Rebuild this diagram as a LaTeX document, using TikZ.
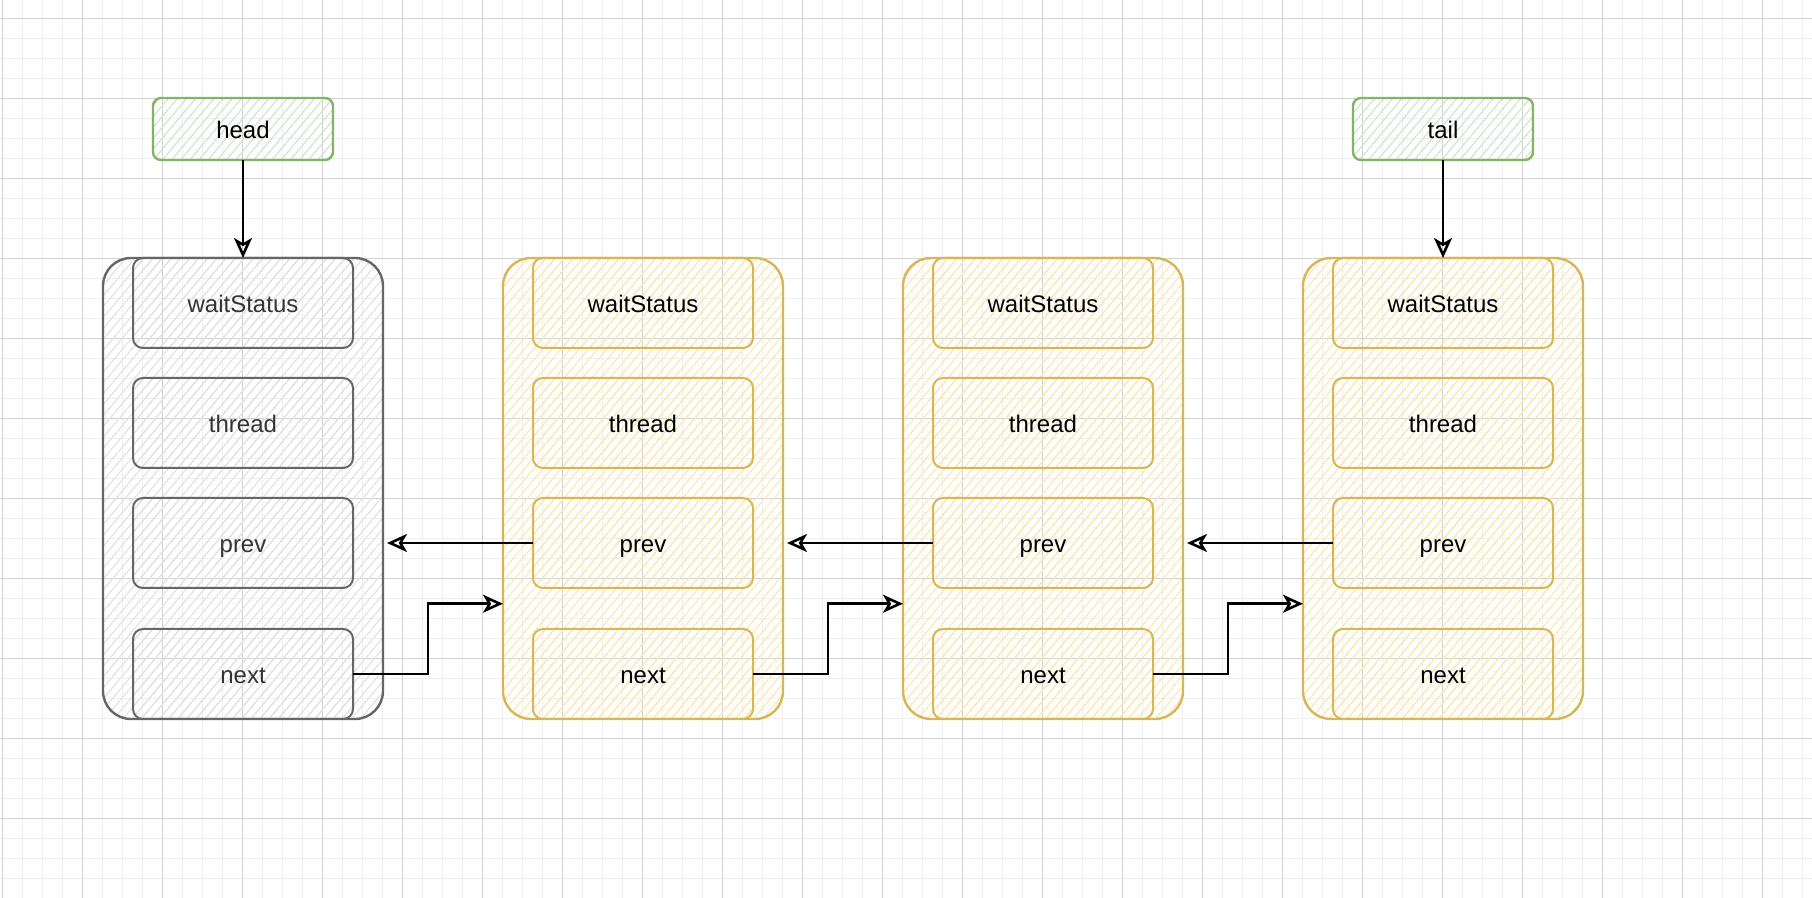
\documentclass[tikz,border=0pt]{standalone}
\usepackage{fontspec}
\setmainfont{Liberation Sans}
\usetikzlibrary{arrows.meta, positioning, calc, patterns.meta}
\definecolor{grayline}{HTML}{666666}
\definecolor{grayhatch}{HTML}{E3E3E3}
\definecolor{yelline}{HTML}{D6B656}
\definecolor{yelhatch}{HTML}{FBE9B4}
\definecolor{grnline}{HTML}{82B366}
\definecolor{grnhatch}{HTML}{D0E6CE}
\definecolor{gridmajor}{HTML}{D2D2D2}
\definecolor{gridminor}{HTML}{F0F0F0}

\begin{document}
\begin{tikzpicture}[x=0.5pt, y=-0.5pt, >={Stealth[open, length=10pt, width=9pt, inset=2.6pt]},
  node distance=15pt and 60pt, font=\fontsize{12}{14}\selectfont,
  hatch/.style={pattern={Lines[angle=50, distance=3.5pt, line width=0.6pt]}},
  nodebox/.style={hatch, line width=1.2pt, rounded corners=14pt, minimum width=140pt,
                  minimum height=230.5pt, inner sep=0pt, outer sep=0pt},
  field/.style={hatch, line width=1pt, rounded corners=5pt, minimum width=110pt,
                minimum height=45pt, inner sep=0pt, outer sep=0pt,
                text height=9.6pt, text depth=0pt},
  grayish/.style={draw=grayline, pattern color=grayhatch, text=black!80},
  yellow/.style={draw=yelline, pattern color=yelhatch},
  refbox/.style={hatch, draw=grnline, pattern color=grnhatch, line width=1.2pt,
                 rounded corners=4pt, minimum width=90pt, minimum height=31pt, outer sep=0pt,
                 text height=9.6pt, text depth=0pt},
  ptr/.style={->, line width=1.3pt}]
\fill[white] (0,0) rectangle (1812,898);
\useasboundingbox (0,0) rectangle (1812,898);
\foreach \i in {0,...,90} \draw[gridminor, line width=0.6pt] ({2.67+20*\i},0) -- ++(0,898);
\foreach \j in {0,...,44} \draw[gridminor, line width=0.6pt] (0,{-1.67+20*\j}) -- ++(1812,0);
\foreach \i in {0,...,22} \draw[gridmajor, line width=0.6pt] ({2.67+80*\i},0) -- ++(0,898);
\foreach \j in {0,...,10} \draw[gridmajor, line width=0.6pt] (0,{18.33+80*\j}) -- ++(1812,0);

\node[nodebox, grayish] (n1) at (243,488.5) {};
\node[nodebox, yellow, right=of n1] (n2) {};
\node[nodebox, yellow, right=of n2] (n3) {};
\node[nodebox, yellow, right=of n3] (n4) {};

\node[field, grayish, below=0pt of n1.north] (w1) {waitStatus};
\node[field, grayish, below=of w1] (t1) {thread};
\node[field, grayish, below=of t1] (p1) {prev};
\node[field, grayish, above=0pt of n1.south] (x1) {next};

\node[field, yellow, below=0pt of n2.north] (w2) {waitStatus};
\node[field, yellow, below=of w2] (t2) {thread};
\node[field, yellow, below=of t2] (p2) {prev};
\node[field, yellow, above=0pt of n2.south] (x2) {next};

\node[field, yellow, below=0pt of n3.north] (w3) {waitStatus};
\node[field, yellow, below=of w3] (t3) {thread};
\node[field, yellow, below=of t3] (p3) {prev};
\node[field, yellow, above=0pt of n3.south] (x3) {next};

\node[field, yellow, below=0pt of n4.north] (w4) {waitStatus};
\node[field, yellow, below=of w4] (t4) {thread};
\node[field, yellow, below=of t4] (p4) {prev};
\node[field, yellow, above=0pt of n4.south] (x4) {next};

\node[refbox, above=49pt of n1] (head) {head};
\node[refbox, above=49pt of n4] (tail) {tail};

\draw[ptr] (head) -- (n1);
\draw[ptr] (tail) -- (n4);
\draw[ptr] (p2.west) -- ([xshift=2pt]p2.west -| n1.east);
\draw[ptr] (p3.west) -- ([xshift=2pt]p3.west -| n2.east);
\draw[ptr] (p4.west) -- ([xshift=2pt]p4.west -| n3.east);
\draw[ptr] (x1.east) -- ++(75,0) |- ($(n2.south west)!0.25!(n2.north west)$);
\draw[ptr] (x2.east) -- ++(75,0) |- ($(n3.south west)!0.25!(n3.north west)$);
\draw[ptr] (x3.east) -- ++(75,0) |- ($(n4.south west)!0.25!(n4.north west)$);
\end{tikzpicture}
\end{document}
